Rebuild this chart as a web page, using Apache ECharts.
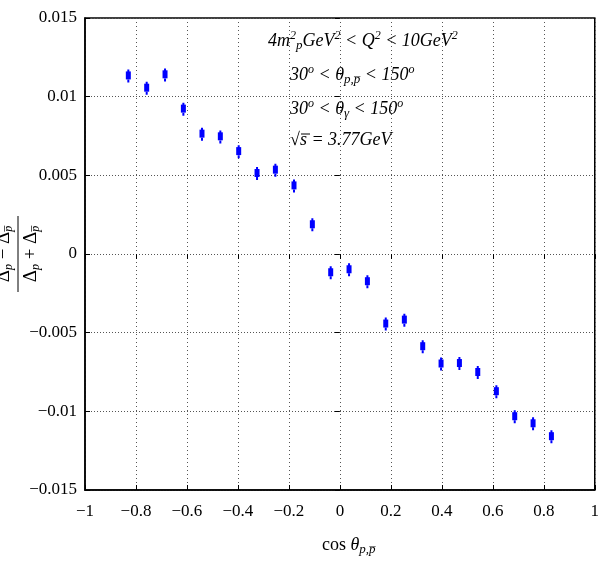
<!DOCTYPE html>
<html>
<head>
<meta charset="utf-8">
<script src="https://cdn.jsdelivr.net/npm/echarts@6/dist/echarts.min.js"></script>
<style>
  html, body { margin: 0; padding: 0; background: #fff; }
  #main { width: 602px; height: 568px; }
</style>
</head>
<body>
<div id="main"></div>
<script>
// bin centres in cos(theta) and the measured asymmetry
var cosTheta = [-0.830, -0.758, -0.686, -0.614, -0.541, -0.469, -0.397, -0.325,
  -0.253, -0.180, -0.108, -0.036, 0.036, 0.108, 0.180, 0.253,
  0.325, 0.397, 0.469, 0.541, 0.614, 0.686, 0.758, 0.830];
var asym = [0.01135, 0.01057, 0.01142, 0.00924, 0.00765, 0.00748, 0.00654, 0.00515,
  0.00536, 0.00436, 0.00189, -0.00116, -0.00097, -0.00173, -0.00442, -0.00417,
  -0.00586, -0.00696, -0.00693, -0.0075, -0.00872, -0.01031, -0.01076, -0.01158];
var asymErr = [0.00045, 0.00045, 0.00045, 0.00045, 0.00045, 0.00045, 0.00045, 0.00045,
  0.00045, 0.00045, 0.00045, 0.00045, 0.00045, 0.00045, 0.00045, 0.00045,
  0.00045, 0.00045, 0.00045, 0.00045, 0.00045, 0.00045, 0.00045, 0.00045];
var xTicks = [-1, -0.8, -0.6, -0.4, -0.2, 0, 0.2, 0.4, 0.6, 0.8, 1];
var yTicks = [-0.015, -0.01, -0.005, 0, 0.005, 0.01, 0.015];

var serif = 'Liberation Serif';
var tickFont = { fontFamily: serif, fontSize: 17, color: '#000' };
var pbar = 'p\u0305';

function fmt(v) {
  var s = String(parseFloat(v.toFixed(4)));
  return s.replace('-', '\u2212');
}

var points = [];
for (var i = 0; i < cosTheta.length; i++) {
  points.push([cosTheta[i], asym[i], asym[i] - asymErr[i], asym[i] + asymErr[i]]);
}

// rich styles for the math annotations
var mathRich = {
  i: { fontFamily: serif, fontStyle: 'italic', fontSize: 18, fill: '#000' },
  s: { fontFamily: serif, fontStyle: 'italic', fontSize: 12, fill: '#000', padding: [0, 0, 10, 0] },
  b: { fontFamily: serif, fontStyle: 'italic', fontSize: 13, fill: '#000', padding: [10, 0, 0, 0] }
};

var myChart = echarts.init(document.getElementById('main'));

var option = {
  backgroundColor: '#fff',
  animation: false,
  grid: { left: 85, right: 3, top: 18, bottom: 78, show: true, borderColor: '#000', borderWidth: 1.5 },
  xAxis: [{
    type: 'value', min: -1, max: 1, interval: 0.2,
    axisLine: { show: true, onZero: false, lineStyle: { color: '#000', width: 1.5 } },
    axisTick: { inside: true, length: 5, lineStyle: { color: '#000' } },
    axisLabel: Object.assign({ margin: 13, formatter: fmt }, tickFont),
    splitLine: { show: true, lineStyle: { color: '#555', type: [1, 3], width: 1 } }
  }, {
    type: 'value', min: -1, max: 1, interval: 0.2, position: 'top',
    axisLine: { show: false },
    axisTick: { inside: true, length: 5, lineStyle: { color: '#000' } },
    axisLabel: { show: false }, splitLine: { show: false }
  }],
  yAxis: [{
    type: 'value', min: -0.015, max: 0.015, interval: 0.005,
    axisLine: { show: true, onZero: false, lineStyle: { color: '#000', width: 1.5 } },
    axisTick: { inside: true, length: 5, lineStyle: { color: '#000' } },
    axisLabel: Object.assign({ margin: 8, formatter: fmt }, tickFont),
    splitLine: { show: true, lineStyle: { color: '#555', type: [1, 2], width: 1 } }
  }, {
    type: 'value', min: -0.015, max: 0.015, interval: 0.005, position: 'right',
    axisLine: { show: false },
    axisTick: { inside: true, length: 5, lineStyle: { color: '#000' } },
    axisLabel: { show: false }, splitLine: { show: false }
  }],
  series: [{
    type: 'custom',
    data: points,
    encode: { x: 0, y: 1 },
    renderItem: function (params, api) {
      var c = api.coord([api.value(0), api.value(1)]);
      var lo = api.coord([api.value(0), api.value(2)]);
      var hi = api.coord([api.value(0), api.value(3)]);
      return {
        type: 'group',
        children: [{
          type: 'line',
          shape: { x1: c[0], y1: lo[1], x2: c[0], y2: hi[1] },
          style: { stroke: '#0000ff', lineWidth: 2, lineDash: [3, 2] }
        }, {
          type: 'rect',
          shape: { x: c[0] - 2.5, y: c[1] - 4, width: 5, height: 8 },
          style: { fill: '#0000ff' }
        }]
      };
    }
  }],
  graphic: [
    {
      type: 'text', left: 268, top: 30,
      style: { text: '{i|4m}{s|2}{b|p}{i|GeV}{s|2}{i| < Q}{s|2}{i| < 10GeV}{s|2}', rich: mathRich }
    },
    {
      type: 'text', left: 290, top: 64,
      style: { text: '{i|30}{s|o}{i| < θ}{b|p,' + pbar + '}{i| < 150}{s|o}', rich: mathRich }
    },
    {
      type: 'text', left: 290, top: 98,
      style: { text: '{i|30}{s|o}{i| < θ}{b|γ}{i| < 150}{s|o}', rich: mathRich }
    },
    {
      type: 'text', left: 290, top: 131,
      style: { text: '{i|√s = 3.77GeV}', rich: mathRich }
    },
    {
      // overline of the square root
      type: 'line', shape: { x1: 301, y1: 134, x2: 310, y2: 134 },
      style: { stroke: '#000', lineWidth: 1 }
    },
    {
      type: 'text', left: 322, top: 536,
      style: {
        text: 'cos {i|θ}{b|p,' + pbar + '}',
        font: '18px "Liberation Serif"', fill: '#000',
        rich: mathRich
      }
    },
    {
      type: 'group', x: 18, y: 254, rotation: Math.PI / 2,
      children: [
        {
          type: 'text', x: 0, y: -3,
          style: {
            text: '{d|Δ}{b|p} − {d|Δ}{b|' + pbar + '}',
            align: 'center', verticalAlign: 'bottom',
            font: '19px "Liberation Serif"', fill: '#000',
            rich: {
              d: { fontFamily: serif, fontSize: 19, fill: '#000' },
              b: { fontFamily: serif, fontStyle: 'italic', fontSize: 12, fill: '#000', padding: [9, 0, 0, 0] }
            }
          }
        },
        {
          type: 'line', shape: { x1: -38, y1: 0, x2: 38, y2: 0 },
          style: { stroke: '#000', lineWidth: 1 }
        },
        {
          type: 'text', x: 0, y: 3,
          style: {
            text: '{d|Δ}{b|p} + {d|Δ}{b|' + pbar + '}',
            align: 'center', verticalAlign: 'top',
            font: '19px "Liberation Serif"', fill: '#000',
            rich: {
              d: { fontFamily: serif, fontSize: 19, fill: '#000' },
              b: { fontFamily: serif, fontStyle: 'italic', fontSize: 12, fill: '#000', padding: [9, 0, 0, 0] }
            }
          }
        }
      ]
    }
  ]
};

myChart.setOption(option);
</script>
</body>
</html>
